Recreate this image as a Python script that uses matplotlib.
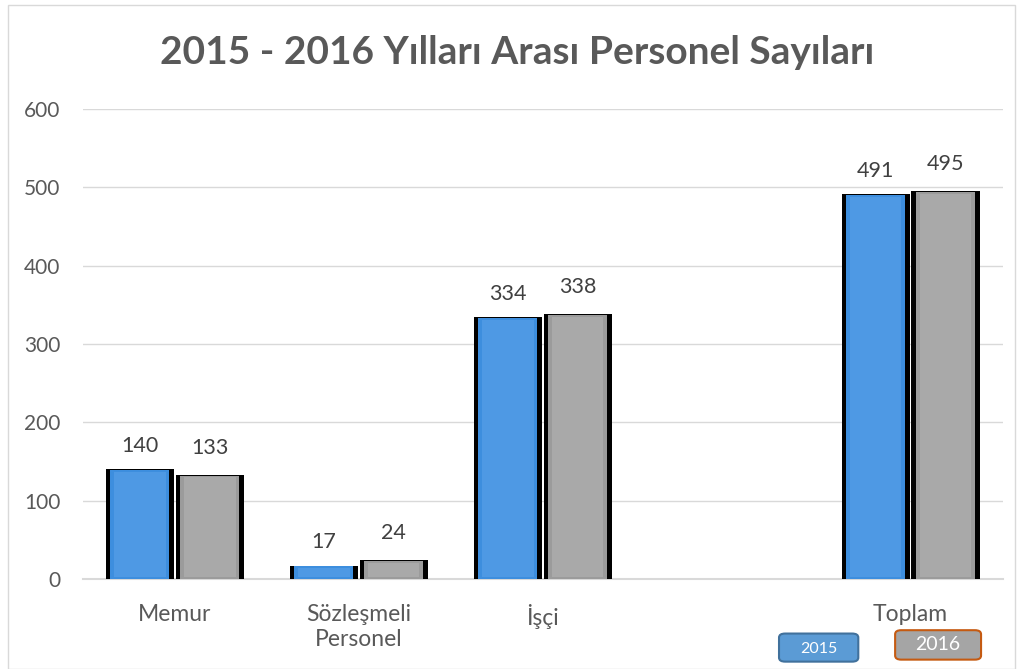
import matplotlib.pyplot as plt
import matplotlib.patches as mpatches
import numpy as np

kategoriler = ["Memur", "Sözleşmeli\nPersonel", "İşçi", "", "Toplam"]
yil_2015 = [140, 17, 334, 0, 491]
yil_2016 = [133, 24, 338, 0, 495]
yillar = ["2015", "2016"]

plt.rcParams['font.family'] = ['Lato', 'DejaVu Sans']

fig = plt.figure(figsize=(10.23, 6.69), dpi=100)
ax = fig.add_axes([0.081, 0.1345, 0.899, 0.7025])

x = np.arange(len(kategoriler))
w = 0.37
off = 0.19

def ciz(xs, vals, renk, acik):
    for xi, v in zip(xs, vals):
        if v == 0:
            # bos kategori: sadece ince gri cizgi
            ax.plot([xi - w / 2 + 0.02, xi + w / 2 - 0.02], [-1.5, -1.5], color='#bfbfbf', lw=2,
                    solid_capstyle='butt', zorder=3)
            continue
        ax.bar(xi, v, width=w, color='black', zorder=3)
        ax.bar(xi, v - 1, width=w - 0.05, color=renk, zorder=4)
        ax.bar(xi, v - 5, width=w - 0.09, bottom=2, color=acik, alpha=0.35, zorder=5)

ciz(x - off, yil_2015, '#3d8ede', '#6fb0f0')
ciz(x + off, yil_2016, '#9b9b9b', '#c4c4c4')

for xi, v in zip(x - off, yil_2015):
    if v:
        ax.text(xi, v + 17, str(v), ha='center', va='bottom', fontsize=15.5, color='#404040')
for xi, v in zip(x + off, yil_2016):
    if v:
        ax.text(xi, v + 22, str(v), ha='center', va='bottom', fontsize=15.5, color='#404040')

ax.set_xlim(-0.5, len(kategoriler) - 0.5)
ax.set_ylim(0, 600)
ax.set_yticks(range(0, 601, 100))
ax.set_xticks(x)
ax.set_xticklabels(kategoriler, fontsize=16.5, color='#595959', linespacing=1.25)
ax.tick_params(axis='y', labelsize=15, labelcolor='#595959', length=0, pad=16)
ax.tick_params(axis='x', length=0, pad=18)
ax.grid(axis='y', color='#d9d9d9', lw=1, zorder=0)
ax.set_axisbelow(True)
for s in ['top', 'right', 'left']:
    ax.spines[s].set_visible(False)
ax.spines['bottom'].set_color('#d9d9d9')
ax.spines['bottom'].set_linewidth(1.5)

fig.text(0.506, 0.922, "2015 - 2016 Yılları Arası Personel Sayıları", ha='center', va='center',
         fontsize=28, fontweight='bold', color='#595959')

# legend kutulari
kutu1 = mpatches.FancyBboxPatch((0.7615, 0.011), 0.0775, 0.042, transform=fig.transFigure,
                                boxstyle='round,pad=0,rounding_size=0.006', fc='#5b9bd5',
                                ec='#41719c', lw=1.5)
kutu2 = mpatches.FancyBboxPatch((0.875, 0.014), 0.084, 0.044, transform=fig.transFigure,
                                boxstyle='round,pad=0,rounding_size=0.006', fc='#a5a5a5',
                                ec='#c55a11', lw=1.5)
fig.patches.extend([kutu1, kutu2])
fig.text(0.800, 0.030, yillar[0], ha='center', va='center', fontsize=11.5, color='white')
fig.text(0.917, 0.036, yillar[1], ha='center', va='center', fontsize=14, color='white')

# dis cerceve
fig.patches.append(mpatches.Rectangle((0.008, 0.0), 0.984, 0.992, transform=fig.transFigure,
                                      fill=False, ec='#d9d9d9', lw=1))

fig.savefig('out.png', dpi=100)
